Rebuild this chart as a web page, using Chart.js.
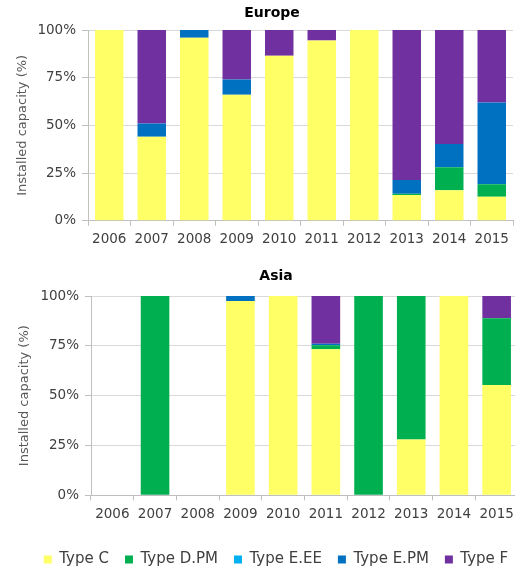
<!DOCTYPE html>
<html>
<head>
<meta charset="utf-8">
<script src="https://cdn.jsdelivr.net/npm/chart.js@4"></script>
<style>
  html, body { margin: 0; padding: 0; background: #fff; width: 515px; height: 569px; overflow: hidden; }
  #wrap { position: relative; width: 515px; height: 569px; overflow: hidden; }
  canvas { position: absolute; left: 0; }
  #europe { top: 0; }
  #asia { top: 258px; }
</style>
</head>
<body>
<div id="wrap">
  <canvas id="europe" width="544" height="251"></canvas>
  <canvas id="asia" width="552" height="319"></canvas>
</div>
<script>
// Share of installed capacity by type, per year (%)
const years = ['2006', '2007', '2008', '2009', '2010', '2011', '2012', '2013', '2014', '2015'];
const typeNames = ['Type C', 'Type D.PM', 'Type E.EE', 'Type E.PM', 'Type F'];
const typeColors = ['#FFFF66', '#00B050', '#00B0F0', '#0070C0', '#7030A0'];
const yTicks = [0, 25, 50, 75, 100];

// Europe
const europeTypeC   = [100, 44, 96, 66, 86.5, 94.5, 100, 13.5, 16, 12.6];
const europeTypeDPM = [0, 0, 0, 0, 0, 0, 0, 0.6, 12, 6.5];
const europeTypeEEE = [0, 0, 0, 0, 0, 0, 0, 0, 0, 0];
const europeTypeEPM = [0, 7, 4, 8, 0, 0, 0, 7.2, 12.2, 42.9];
const europeTypeF   = [0, 49, 0, 26, 13.5, 5.5, 0, 78.7, 59.8, 38];

// Asia
const asiaTypeC   = [0, 0, 0, 97.5, 100, 73.3, 0, 28, 100, 55.3];
const asiaTypeDPM = [0, 100, 0, 0, 0, 2, 100, 72, 0, 33.5];
const asiaTypeEEE = [0, 0, 0, 0, 0, 0, 0, 0, 0, 0];
const asiaTypeEPM = [0, 0, 0, 2.5, 0, 0.7, 0, 0, 0, 0];
const asiaTypeF   = [0, 0, 0, 0, 0, 24, 0, 0, 0, 11.2];

const FONT = "'DejaVu Sans', Verdana, sans-serif";

function makeDatasets(series) {
  return series.map((values, i) => ({
    label: typeNames[i],
    data: values,
    backgroundColor: typeColors[i],
    borderWidth: 0,
    categoryPercentage: 1,
    barPercentage: 0.67
  }));
}

function makeChart(el, title, series, opt) {
  return new Chart(el, {
    type: 'bar',
    data: { labels: years, datasets: makeDatasets(series) },
    options: {
      responsive: false,
      animation: false,
      events: [],
      layout: { padding: 0 },
      plugins: {
        tooltip: { enabled: false },
        title: {
          display: true,
          text: title,
          color: '#000',
          font: { family: FONT, size: 14, weight: 'bold' },
          padding: opt.titlePadding
        },
        legend: {
          display: opt.legend,
          position: 'bottom',
          labels: {
            color: '#404040',
            font: { family: FONT, size: 15 },
            boxWidth: 8,
            boxHeight: 8,
            padding: 16
          }
        }
      },
      scales: {
        x: {
          stacked: true,
          offset: true,
          grid: {
            display: true,
            offset: true,
            drawOnChartArea: false,
            drawTicks: true,
            tickLength: 5,
            color: '#BFBFBF'
          },
          border: { display: true, color: '#BFBFBF' },
          ticks: { color: '#404040', font: { family: FONT, size: 13.5 }, padding: 6, maxRotation: 0 },
          afterFit: s => { s.height = opt.xHeight; }
        },
        y: {
          stacked: true,
          min: 0,
          max: 100,
          afterBuildTicks: s => { s.ticks = yTicks.map(v => ({ value: v })); },
          grid: { color: '#D9D9D9', tickLength: 6, tickColor: '#BFBFBF' },
          border: { display: true, color: '#BFBFBF' },
          ticks: {
            color: '#404040',
            font: { family: FONT, size: 13.5 },
            padding: 6,
            callback: v => v + '%'
          },
          title: {
            display: true,
            text: 'Installed capacity (%)',
            color: '#595959',
            font: { family: FONT, size: 13 },
            padding: { top: opt.yTitlePad, bottom: 0 }
          },
          afterFit: s => { s.width = opt.yWidth; }
        },
        // empty right-hand axis that reserves the space on the right of the plot
        spacer: {
          position: 'right',
          display: true,
          grid: { display: false },
          border: { display: false },
          ticks: { display: false },
          afterFit: s => { s.width = opt.rightGap; }
        }
      }
    }
  });
}

makeChart(document.getElementById('europe'), 'Europe',
  [europeTypeC, europeTypeDPM, europeTypeEEE, europeTypeEPM, europeTypeF],
  { titlePadding: { top: 5, bottom: 8.2 }, legend: false, xHeight: 30.3, yWidth: 88, yTitlePad: 14.5, rightGap: 31 });

makeChart(document.getElementById('asia'), 'Asia',
  [asiaTypeC, asiaTypeDPM, asiaTypeEEE, asiaTypeEPM, asiaTypeF],
  { titlePadding: { top: 9.6, bottom: 11.6 }, legend: true, xHeight: 40.7, yWidth: 91, yTitlePad: 17, rightGap: 34 });
</script>
</body>
</html>
